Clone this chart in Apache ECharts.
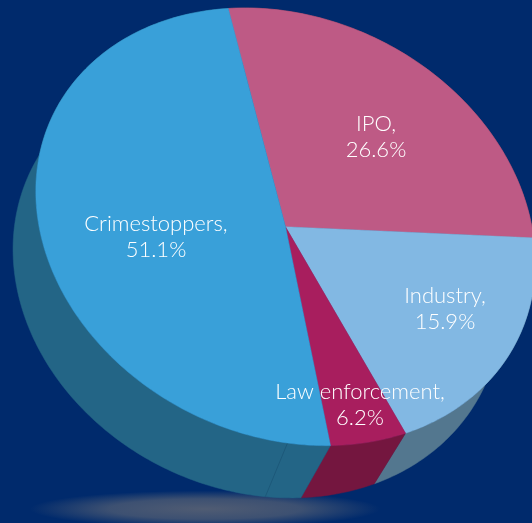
<!DOCTYPE html>
<html><head><meta charset="utf-8">
<style>html,body{margin:0;padding:0;background:#002a6c}#c{width:532px;height:523px}</style>
<script src="https://cdn.jsdelivr.net/npm/echarts@6/dist/echarts.min.js"></script></head>
<body><div id="c"></div>
<script>
// Data
const categories = ['IPO', 'Industry', 'Law enforcement', 'Crimestoppers'];
// Percentages as printed in the reference's labels
const printedPercent = [26.6, 15.9, 6.2, 51.1];
// Wedge sizes, in percent of the disc. The reference's
// drawn wedges do not agree with its printed numbers, so the two are kept apart.
const drawnSweepPercent = [26.9, 18.8, 5.1, 49.2];

// Styles
const topColors = ['#be5a85', '#82b8e3', '#a81e5e', '#39a0d9'];
const sideColors = ['#7a3a56', '#53778f', '#74163f', '#236586'];
const labelAnchors = [[376, 137], [445, 309], [360, 405], [156, 237]];

// Layout of the tilted disc
const cx = 285.5, cy = 226.8, rA = 258, rB = 209, tilt = 25.4 * Math.PI / 180;
const startDeg = -124.3, depthX = -28.5, depthY = 53, depthScaleX = 0.977, depthShear = -0.02;
const seamTopDeg = 68.5, seamBottomDeg = 67;

function topRim(deg) {
  const t = deg * Math.PI / 180, a = rA * Math.cos(t), b = rB * Math.sin(t);
  return [cx + a * Math.cos(tilt) - b * Math.sin(tilt), cy + a * Math.sin(tilt) + b * Math.cos(tilt)];
}
function bottomRim(deg) {
  const p = topRim(deg), dx = p[0] - cx;
  return [cx + depthX + depthScaleX * dx, p[1] + depthY + depthShear * dx];
}
const total = drawnSweepPercent.reduce((s, v) => s + v, 0);
function span(i) {
  let from = startDeg;
  for (let k = 0; k < i; k++) from += drawnSweepPercent[k] / total * 360;
  return [from, from + drawnSweepPercent[i] / total * 360];
}
function arc(from, to, fn) {
  const pts = [], n = Math.max(2, Math.ceil(Math.abs(to - from)));
  for (let j = 0; j <= n; j++) pts.push(fn(from + (to - from) * j / n));
  return pts;
}
const seriesData = categories.map((name, i) => ({ name, value: drawnSweepPercent[i] }));

function renderSide(params) {
  const i = params.dataIndex, [a, b] = span(i);
  const pts = arc(a, b, topRim).concat(arc(a, b, bottomRim).reverse());
  const children = [{ type: 'polygon', shape: { points: pts },
    style: { fill: sideColors[i], stroke: sideColors[i], lineWidth: 0.5 } }];
  if (seamTopDeg >= a && seamTopDeg <= b) {
    const p = topRim(seamTopDeg), q = bottomRim(seamBottomDeg);
    children.push({ type: 'line', shape: { x1: p[0], y1: p[1], x2: q[0], y2: q[1] },
      style: { stroke: '#1a5374', lineWidth: 0.7 } });
  }
  return { type: 'group', children };
}
function renderTop(params) {
  const i = params.dataIndex, [a, b] = span(i);
  const pts = [[cx, cy]].concat(arc(a, b, topRim));
  return { type: 'group', children: [
    { type: 'polygon', shape: { points: pts },
      style: { fill: topColors[i], stroke: topColors[i], lineWidth: 0.5 } },
    { type: 'text', z2: 20, style: {
        x: labelAnchors[i][0], y: labelAnchors[i][1],
        text: categories[i] + ',\n' + printedPercent[i].toFixed(1) + '%',
        fill: '#ffffff', font: '300 22px Lato, "Open Sans", sans-serif',
        lineHeight: 26, align: 'center', verticalAlign: 'middle' } }
  ] };
}

const chart = echarts.init(document.getElementById('c'), null, { renderer: 'canvas' });
chart.setOption({
  animation: false,
  backgroundColor: '#002a6c',
  graphic: [{ type: 'circle', z: 0, silent: true,
    x: 205, y: 509, scaleY: 0.105,
    shape: { cx: 0, cy: 0, r: 175 },
    style: { fill: { type: 'radial', x: 0.5, y: 0.5, r: 0.5, colorStops: [
      { offset: 0, color: 'rgba(80,92,115,1)' },
      { offset: 0.55, color: 'rgba(76,90,115,0.8)' },
      { offset: 1, color: 'rgba(76,90,115,0)' }] } } }],
  series: [
    { type: 'custom', coordinateSystem: 'none', z: 2, silent: true, data: seriesData, renderItem: renderSide },
    { type: 'custom', coordinateSystem: 'none', z: 3, silent: true, data: seriesData, renderItem: renderTop }
  ]
});
</script></body></html>
